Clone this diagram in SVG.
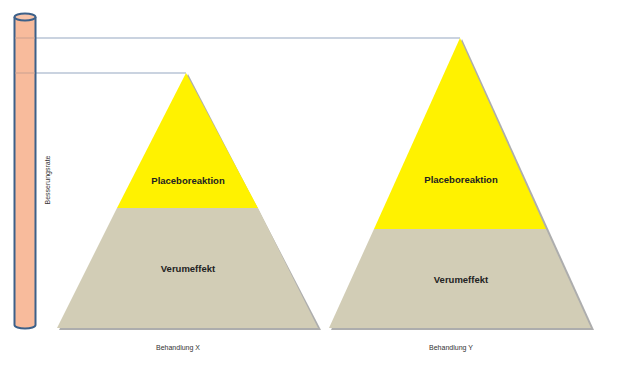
<svg xmlns="http://www.w3.org/2000/svg" width="624" height="382" viewBox="0 0 624 382">
<style>
.lvl{stroke:#b9c5d6;stroke-width:1.5;fill:none}
.shadow{fill:#8a8a8a;opacity:0.7}
.top{fill:#fff200}
.base{fill:#d2cdb6}
.lbl{font-family:"Liberation Sans",Arial,sans-serif;font-weight:bold;font-size:9.5px;fill:#222;text-anchor:middle}
.cap{font-family:"Liberation Sans",Arial,sans-serif;font-size:7px;fill:#333;text-anchor:middle}
</style>
<rect width="624" height="382" fill="#fff"/>
<g id="connectors">
<line class="lvl" x1="35" y1="38" x2="460" y2="38"/>
<line class="lvl" x1="35" y1="73" x2="186" y2="73"/>
</g>
<g id="scale">
<path d="M14.5,17 V325 A10.5,3.5 0 0 0 35.5,325 V17" fill="#f8bb9c" stroke="#3c6089" stroke-width="2"/>
<ellipse cx="25" cy="17" rx="10.5" ry="3.5" fill="#f8c4aa" stroke="#3c6089" stroke-width="2"/>
<line x1="15" y1="38" x2="35" y2="38" stroke="#c9a090" stroke-width="1"/>
<line x1="15" y1="73" x2="35" y2="73" stroke="#c9a090" stroke-width="1"/>
<text class="cap" transform="translate(50,180) rotate(-90)" font-size="6.5">Besserungsrate</text>
</g>
<g id="pyramidX">
<polygon class="shadow" points="188,74 321,330 59,330"/>
<polygon class="base" points="117,208 258,208 318,328 57,328"/>
<polygon class="top" points="186,73 258,208 117,208"/>
<text class="lbl" x="188" y="184">Placeboreaktion</text>
<text class="lbl" x="188" y="272">Verumeffekt</text>
<text class="cap" x="178" y="350">Behandlung X</text>
</g>
<g id="pyramidY">
<polygon class="shadow" points="462,39 594,330 331,330"/>
<polygon class="base" points="374,229 546,229 591,328 329,328"/>
<polygon class="top" points="460,38 546,229 374,229"/>
<text class="lbl" x="461" y="183">Placeboreaktion</text>
<text class="lbl" x="461" y="283">Verumeffekt</text>
<text class="cap" x="451" y="350">Behandlung Y</text>
</g>
</svg>
